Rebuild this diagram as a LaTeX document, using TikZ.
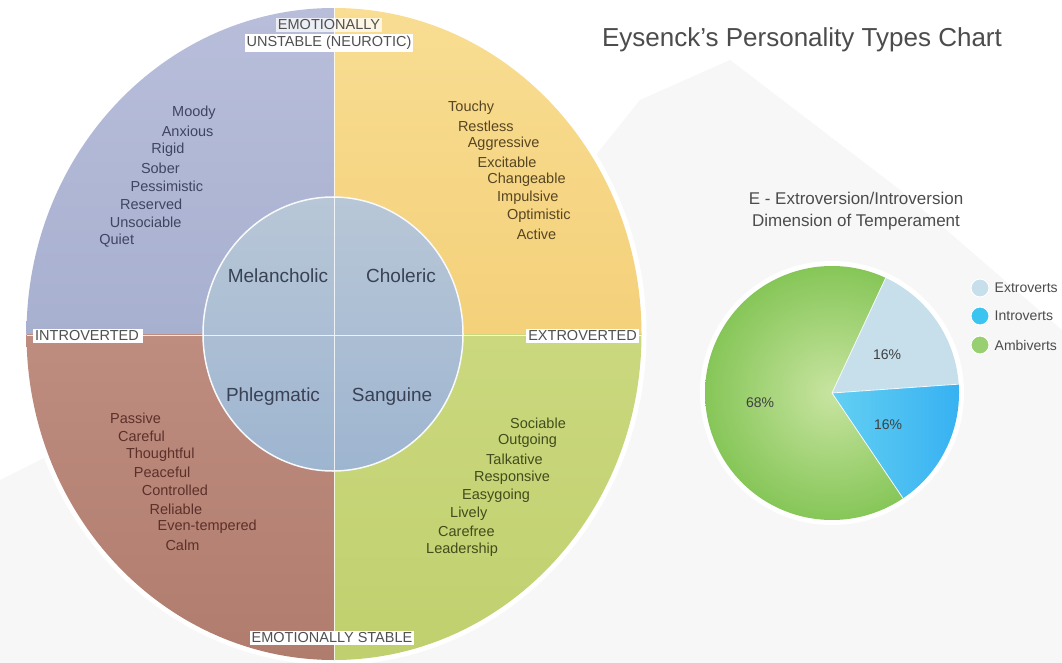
\documentclass[tikz,border=0pt]{standalone}
\usepackage{fontspec}
\setmainfont{Liberation Sans}
\usetikzlibrary{positioning}
\definecolor{bgcol}{RGB}{247,247,247}
\definecolor{melA}{RGB}{184,190,218}\definecolor{melB}{RGB}{152,162,198}
\definecolor{chlA}{RGB}{248,221,146}\definecolor{chlB}{RGB}{240,196,98}
\definecolor{phlA}{RGB}{204,158,144}\definecolor{phlB}{RGB}{176,124,110}
\definecolor{sanA}{RGB}{214,224,142}\definecolor{sanB}{RGB}{192,208,110}
\definecolor{coreA}{RGB}{184,199,215}\definecolor{coreB}{RGB}{158,181,208}
\definecolor{mtxt}{RGB}{62,68,98}\definecolor{ctxt}{RGB}{86,70,34}
\definecolor{ptxt}{RGB}{92,48,42}\definecolor{stxt}{RGB}{66,76,28}
\definecolor{typetxt}{RGB}{56,66,84}\definecolor{axistxt}{RGB}{80,80,80}
\definecolor{extro}{RGB}{198,223,235}\definecolor{intro}{RGB}{60,196,240}
\definecolor{ambiA}{RGB}{200,228,160}\definecolor{ambiB}{RGB}{134,198,88}
\tikzset{trait/.style={anchor=west,inner sep=0pt,font=\fontsize{14.5}{16}\selectfont},
temper/.style={text=typetxt,font=\fontsize{19}{22}\selectfont},
axis/.style={fill=white,inner sep=2pt,text=axistxt,font=\fontsize{14.5}{16}\selectfont},
pct/.style={text=black!75,font=\fontsize{14}{16}\selectfont},
key/.style={circle,draw=white,line width=1pt,minimum size=18pt,inner sep=0pt},
keytxt/.style={inner sep=0pt,text=black!70,font=\fontsize{14}{16}\selectfont}}

\begin{document}
\begin{tikzpicture}[x=1pt,y=1pt]
\useasboundingbox (0,0) rectangle (1062,-663);
\fill[white] (0,0) rectangle (1062,-663);
\fill[bgcol] (0,-663) -- (0,-480) -- (200,-380) -- (560,-200) -- (640,-100) -- (730,-60) -- (900,-190) -- (1062,-330) -- (1062,-663) -- cycle;
\coordinate (o) at (334,-334);
\coordinate (pc) at (832,-393);
% halos
\draw[white,line width=10pt] (o) ellipse [x radius=307.5,y radius=326];
\draw[white,line width=10pt] (pc) circle (127);
% the four outer quadrants
\begin{scope}\clip (o) rectangle (0,0);
\shade[top color=melA,bottom color=melB] (o) ellipse [x radius=307.5,y radius=326];\end{scope}
\begin{scope}\clip (o) rectangle (700,0);
\shade[top color=chlA,bottom color=chlB] (o) ellipse [x radius=307.5,y radius=326];\end{scope}
\begin{scope}\clip (o) rectangle (0,-700);
\shade[top color=phlA,bottom color=phlB] (o) ellipse [x radius=307.5,y radius=326];\end{scope}
\begin{scope}\clip (o) rectangle (700,-700);
\shade[top color=sanA,bottom color=sanB] (o) ellipse [x radius=307.5,y radius=326];\end{scope}
% inner circle
\shade[top color=coreA,bottom color=coreB] (333,-334) ellipse [x radius=130,y radius=137];
\draw[white!90!coreA,line width=1.5pt] (333,-334) ellipse [x radius=130,y radius=137];
\draw[white,opacity=.8,line width=1pt] (334,-8) -- (334,-660) (27,-335) -- (642,-335);

\foreach \w [count=\i from 0] in {Moody,Anxious,Rigid,Sober,Pessimistic,Reserved,Unsociable,Quiet}
  \node[trait,text=mtxt] (m\i) at ({172-10.4*\i},{-113-18.3*\i}) {\w};
\foreach \w [count=\i from 0] in {Touchy,Restless,Aggressive,Excitable,Changeable,Impulsive,Optimistic,Active}
  \node[trait,text=ctxt] (c\i) at ({448+9.8*\i},{-108-18*\i}) {\w};
\foreach \w [count=\i from 0] in {Passive,Careful,Thoughtful,Peaceful,Controlled,Reliable,Even-tempered,Calm}
  \node[trait,text=ptxt] (p\i) at ({110+7.9*\i},{-418-18.2*\i}) {\w};
\foreach \w [count=\i from 0] in {Sociable,Outgoing,Talkative,Responsive,Easygoing,Lively,Carefree,Leadership}
  \node[trait,text=stxt] (s\i) at ({510-12*\i},{-423-18.1*\i}) {\w};

\node[temper] (mel) at (278,-276) {Melancholic};
\node[temper] (chl) at (401,-276) {Choleric};
\node[temper] (phl) at (273,-397) {Phlegmatic};
\node[temper] (san) at (392,-397) {Sanguine};

\node[axis,fill opacity=.75,text opacity=1] (neu1) at (329,-25) {EMOTIONALLY};
\node[axis] (neu2) at (329,-43) {UNSTABLE (NEUROTIC)};
\node[axis,anchor=west] (intr) at (33,-336) {INTROVERTED\,};
\node[axis,anchor=east] (extr) at (639,-336) {EXTROVERTED};
\node[axis] (stab) at (332,-638) {EMOTIONALLY STABLE};

\node[text=black!70,font=\fontsize{26}{30}\selectfont] (title) at (802,-40) {Eysenck's Personality Types Chart};
\node[text=black!70,align=center,font=\fontsize{17}{22}\selectfont] (sub) at (856,-211) {E - Extroversion/Introversion\\Dimension of Temperament};

% pie
\begin{scope}
\clip (pc) -- ++(65:127) arc (65:304:127) -- cycle;
\shade[inner color=ambiA,outer color=ambiB] (pc) circle (127);
\end{scope}
\fill[extro] (pc) -- ++(4:127) arc (4:65:127) -- cycle;
\shade[left color=intro!80!white,right color=intro!90!blue] (pc) -- ++(-56:127) arc (-56:4:127) -- cycle;
\draw[white!80!extro,line width=.8pt] (pc) -- ++(4:127) (pc) -- ++(65:127) (pc) -- ++(-56:127);
\node[pct] (e16) at (887,-355) {16\%};
\node[pct] (i16) at (888,-425) {16\%};
\node[pct] (a68) at (760,-403) {68\%};

\node[key,fill=extro] (ke) at (980,-288) {};
\node[key,fill=intro] (ki) at (980,-316) {};
\node[key,fill=ambiB!85!white] (ka) at (980,-345) {};
\node[keytxt,right=5pt of ke] {Extroverts};
\node[keytxt,right=5pt of ki] {Introverts};
\node[keytxt,right=5pt of ka] {Ambiverts};
\end{tikzpicture}
\end{document}
